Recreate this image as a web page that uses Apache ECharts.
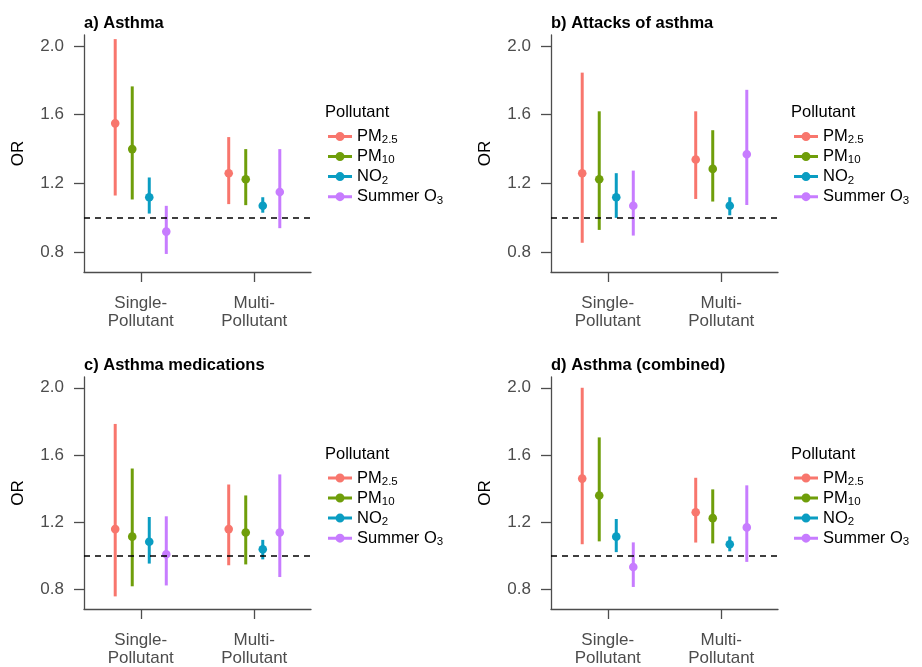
<!DOCTYPE html>
<html><head><meta charset="utf-8">
<script src="https://cdn.jsdelivr.net/npm/echarts@6/dist/echarts.min.js"></script>
<style>html,body{margin:0;padding:0;background:#fff}#c{width:922px;height:667px}</style>
</head><body><div id="c"></div>
<script>
const categories = ['Single-\nPollutant', 'Multi-\nPollutant'];
const pollutants = ['PM2.5', 'PM10', 'NO2', 'Summer O3'];
const panelTitles = ['a) Asthma', 'b) Attacks of asthma', 'c) Asthma medications', 'd) Asthma (combined)'];
const yTicks = [0.8, 1.2, 1.6, 2.0];

// rows: PM2.5, PM10, NO2, Summer O3 ; columns: Single, Multi
const asthmaEst   = [[1.55, 1.26], [1.40, 1.225], [1.12, 1.07], [0.92, 1.15]];
const asthmaLow   = [[1.13, 1.08], [1.107, 1.074], [1.025, 1.03], [0.79, 0.94]];
const asthmaHigh  = [[2.04, 1.47], [1.765, 1.40], [1.235, 1.12], [1.07, 1.40]];

const attacksEst  = [[1.26, 1.34], [1.225, 1.285], [1.12, 1.07], [1.07, 1.37]];
const attacksLow  = [[0.855, 1.11], [0.93, 1.095], [1.0, 1.015], [0.897, 1.075]];
const attacksHigh = [[1.845, 1.62], [1.62, 1.51], [1.26, 1.12], [1.275, 1.745]];

const medsEst     = [[1.16, 1.16], [1.115, 1.14], [1.085, 1.04], [1.01, 1.14]];
const medsLow     = [[0.76, 0.945], [0.82, 0.95], [0.955, 0.98], [0.825, 0.875]];
const medsHigh    = [[1.785, 1.425], [1.52, 1.36], [1.232, 1.096], [1.236, 1.485]];

const combEst     = [[1.46, 1.26], [1.36, 1.225], [1.115, 1.07], [0.935, 1.17]];
const combLow     = [[1.07, 1.08], [1.087, 1.075], [1.023, 1.028], [0.816, 0.965]];
const combHigh    = [[2.0, 1.465], [1.705, 1.396], [1.22, 1.116], [1.081, 1.42]];

const panels = [
  {est: asthmaEst, low: asthmaLow, high: asthmaHigh},
  {est: attacksEst, low: attacksLow, high: attacksHigh},
  {est: medsEst, low: medsLow, high: medsHigh},
  {est: combEst, low: combLow, high: combHigh}
];

const colors = ['#F8766D', '#6F9E0A', '#0A9DC2', '#C77CFF'];
const FONT = '"Liberation Sans", Arial, sans-serif';
const grids = [
  {left: 84, top: 35, width: 227, height: 237},
  {left: 551, top: 35, width: 227, height: 237},
  {left: 84, top: 377, width: 227, height: 236},
  {left: 551, top: 377, width: 227, height: 236}
];
const legendPos = [
  {left: 328, top: 128, tLeft: 325, tTop: 104},
  {left: 794, top: 128, tLeft: 791, tTop: 104},
  {left: 328, top: 469.5, tLeft: 325, tTop: 446},
  {left: 794, top: 469.5, tLeft: 791, tTop: 446}
];
const legendLabels = {
  'PM2.5': '{b|PM}{s|2.5}',
  'PM10': '{b|PM}{s|10}',
  'NO2': '{b|NO}{s|2}',
  'Summer O3': '{b|Summer O}{s|3}'
};
const dodge = 0.15;

function makeRender(k) {
  return function (params, api) {
    const c = api.value(0);
    const bw = api.size([1, 0])[0];
    const off = (k - 1.5) * dodge * bw;
    const pLo = api.coord([c, api.value(1)]);
    const pEst = api.coord([c, api.value(2)]);
    const pHi = api.coord([c, api.value(3)]);
    const x = pEst[0] + off;
    const col = api.visual('color');
    return {
      type: 'group',
      children: [
        {type: 'line', shape: {x1: x, y1: pLo[1], x2: x, y2: pHi[1]}, style: {stroke: col, lineWidth: 3}},
        {type: 'circle', shape: {cx: x, cy: pEst[1], r: 4.3}, style: {fill: col}}
      ]
    };
  };
}

const option = {
  animation: false,
  backgroundColor: '#fff',
  title: [],
  grid: grids.map(g => Object.assign({containLabel: false}, g)),
  xAxis: [],
  yAxis: [],
  legend: [],
  series: []
};

panels.forEach((p, i) => {
  option.title.push({
    text: panelTitles[i], left: grids[i].left, top: grids[i].top - 20, padding: 0,
    textStyle: {fontFamily: FONT, fontSize: 16.5, fontWeight: 'bold', color: '#000'}
  });
  option.title.push({
    text: 'Pollutant', left: legendPos[i].tLeft, top: legendPos[i].tTop, padding: 0,
    textStyle: {fontFamily: FONT, fontSize: 16.5, fontWeight: 'normal', color: '#000'}
  });
  option.xAxis.push({
    type: 'category', gridIndex: i, data: categories, boundaryGap: true,
    axisLine: {show: true, lineStyle: {color: '#4d4d4d', width: 1.3}},
    axisTick: {show: true, alignWithLabel: true, length: 10, lineStyle: {color: '#4d4d4d', width: 1.3}},
    axisLabel: {fontFamily: FONT, fontSize: 17, color: '#4d4d4d', lineHeight: 18, margin: 22},
    splitLine: {show: false}
  });
  option.yAxis.push({
    type: 'value', gridIndex: i, min: 0.685, max: 2.064,
    name: 'OR', nameLocation: 'middle', nameGap: 57,
    nameTextStyle: {fontFamily: FONT, fontSize: 17, color: '#000'},
    axisLine: {show: true, lineStyle: {color: '#4d4d4d', width: 1.3}},
    axisTick: {show: true, length: 10, customValues: yTicks, lineStyle: {color: '#4d4d4d', width: 1.3}},
    axisLabel: {fontFamily: FONT, fontSize: 17, color: '#4d4d4d', margin: 20, customValues: yTicks,
      formatter: v => v.toFixed(1)},
    splitLine: {show: false}
  });
  option.legend.push({
    data: pollutants, orient: 'vertical', left: legendPos[i].left, top: legendPos[i].top,
    padding: 0, itemGap: 1.8, itemWidth: 24, itemHeight: 9, itemTextGap: 14,
    icon: 'path://M0,3L24,3L24,6L0,6Z M7.5,4.5A4.5,4.5 0 1,1 16.5,4.5A4.5,4.5 0 1,1 7.5,4.5Z',
    formatter: name => legendLabels[name],
    selectedMode: false,
    textStyle: {
      fontFamily: FONT, color: '#000',
      rich: {
        b: {fontFamily: FONT, fontSize: 16.5, color: '#000', lineHeight: 19.5},
        s: {fontFamily: FONT, fontSize: 11.5, color: '#000', lineHeight: 13, verticalAlign: 'bottom'}
      }
    }
  });
  pollutants.forEach((name, k) => {
    const data = categories.map((c, j) => [j, p.low[k][j], p.est[k][j], p.high[k][j]]);
    const s = {
      type: 'custom', name: name, xAxisIndex: i, yAxisIndex: i,
      itemStyle: {color: colors[k]},
      encode: {x: 0, y: [1, 2, 3]},
      renderItem: makeRender(k),
      data: data, clip: false
    };
    if (k === 0) {
      s.markLine = {
        silent: true, symbol: 'none', label: {show: false},
        lineStyle: {color: '#000', type: [6, 5], width: 1.5},
        data: [{yAxis: 1}]
      };
    }
    option.series.push(s);
  });
});

const chart = echarts.init(document.getElementById('c'));
chart.setOption(option);
</script>
</body></html>
